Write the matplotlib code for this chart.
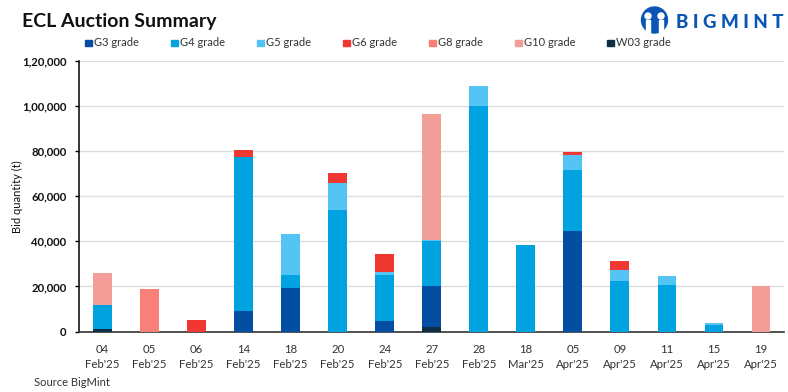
import matplotlib
matplotlib.use('Agg')
import matplotlib.pyplot as plt
import matplotlib.patches as mpatches
import numpy as np

plt.rcParams['font.family'] = ['Lato', 'DejaVu Sans']

dates = ["04\nFeb'25", "05\nFeb'25", "06\nFeb'25", "14\nFeb'25", "18\nFeb'25",
         "20\nFeb'25", "24\nFeb'25", "27\nFeb'25", "28\nFeb'25", "18\nMar'25",
         "05\nApr'25", "09\nApr'25", "11\nApr'25", "15\nApr'25", "19\nApr'25"]

w03 = [1300, 0, 0, 0, 0, 0, 0, 2000, 0, 0, 0, 0, 0, 0, 0]
g3 = [0, 0, 0, 9000, 19200, 0, 4500, 18000, 0, 0, 44500, 0, 0, 0, 0]
g4 = [10500, 0, 0, 68500, 5800, 54000, 20500, 20000, 100000, 38500, 27000, 22500, 20500, 3000, 0]
g5 = [0, 0, 0, 0, 18300, 11800, 1500, 600, 9000, 0, 7000, 5000, 4300, 700, 0]
g6 = [0, 0, 5000, 3000, 0, 4700, 8000, 0, 0, 0, 1200, 3800, 0, 0, 0]
g8 = [0, 19000, 0, 0, 0, 0, 0, 0, 0, 0, 0, 0, 0, 0, 0]
g10 = [14200, 0, 0, 0, 0, 0, 0, 56100, 0, 0, 0, 0, 0, 0, 20000]

# bottom to top order of the stack
stack = [('W03 grade', w03, '#0f2f47'), ('G3 grade', g3, '#034ea2'),
         ('G4 grade', g4, '#00a3e0'), ('G5 grade', g5, '#54c4f5'),
         ('G6 grade', g6, '#f03732'), ('G8 grade', g8, '#f97f79'),
         ('G10 grade', g10, '#f29d98')]

fig = plt.figure(figsize=(7.88, 3.92), dpi=100)
ax = fig.add_axes([79 / 788, 1 - 331.5 / 392, (784.5 - 79) / 788, 270.5 / 392])

x = np.arange(len(dates))
bottom = np.zeros(len(dates))
for name, vals, col in stack:
    vals = np.array(vals)
    ax.bar(x, vals, 0.4, bottom=bottom, color=col, zorder=3)
    bottom += vals

ax.set_xlim(-0.5, len(dates) - 0.5)
ax.set_ylim(0, 120000)
yticks = [0, 20000, 40000, 60000, 80000, 100000, 120000]
ylabels = ['0', '20,000', '40,000', '60,000', '80,000', '1,00,000', '1,20,000']
ax.set_yticks(yticks)
ax.set_yticklabels(ylabels, fontsize=8.2, fontweight='bold', color='#111111')
ax.set_xticks(x)
ax.set_xticklabels(dates, fontsize=8.2, color='#333333', linespacing=1.45)
ax.tick_params(axis='x', length=0, pad=9)
ax.tick_params(axis='y', length=3, width=1, color='black', pad=6)
ax.grid(axis='y', color='#dddddd', lw=1, zorder=0)
ax.set_axisbelow(True)
for s in ['top', 'right']:
    ax.spines[s].set_visible(False)
ax.spines['left'].set_linewidth(1.1)
ax.spines['bottom'].set_color('#333333')
ax.spines['bottom'].set_linewidth(1.2)
ax.set_ylabel('Bid quantity (t)', fontsize=8, color='#111111')
ax.yaxis.set_label_coords(-0.08, 0.5)

# legend is spaced by hand in the original, so place each entry
legend_order = ['G3 grade', 'G4 grade', 'G5 grade', 'G6 grade', 'G8 grade', 'G10 grade', 'W03 grade']
legend_cols = dict((n, c) for n, v, c in stack)
legend_x = [85, 171, 257, 343, 429, 515, 607]
for name, lx in zip(legend_order, legend_x):
    fig.patches.append(mpatches.Rectangle((lx / 788, 1 - 46 / 392), 6.5 / 788, 6.5 / 392,
                                          transform=fig.transFigure, color=legend_cols[name]))
    fig.text((lx + 9.5) / 788, 1 - 42.5 / 392, name, fontsize=8, color='#333333', va='center')

fig.text(22 / 788, 1 - 21 / 392, 'ECL Auction Summary', fontsize=14, fontweight='bold',
         color='#111111', va='center')
fig.text(34 / 788, 1 - 383 / 392, 'Source BigMint', fontsize=8, color='#333333', va='center')

# logo
blue = '#0a55b5'
fig.patches.append(mpatches.Ellipse((654.5 / 788, 1 - 20 / 392), 26 / 788, 26 / 392,
                                    transform=fig.transFigure, color=blue))
for cx in [648, 661]:
    fig.patches.append(mpatches.Ellipse((cx / 788, 1 - 16 / 392), 6 / 788, 6 / 392,
                                        transform=fig.transFigure, color='white'))
    fig.patches.append(mpatches.Rectangle(((cx - 2) / 788, 1 - 33 / 392), 4 / 788, 13 / 392,
                                          transform=fig.transFigure, color='white'))
fig.text(676 / 788, 1 - 22 / 392, 'B I G M I N T', fontsize=13.5, fontweight='black', color=blue, va='center')

fig.savefig('out.png', dpi=100)
